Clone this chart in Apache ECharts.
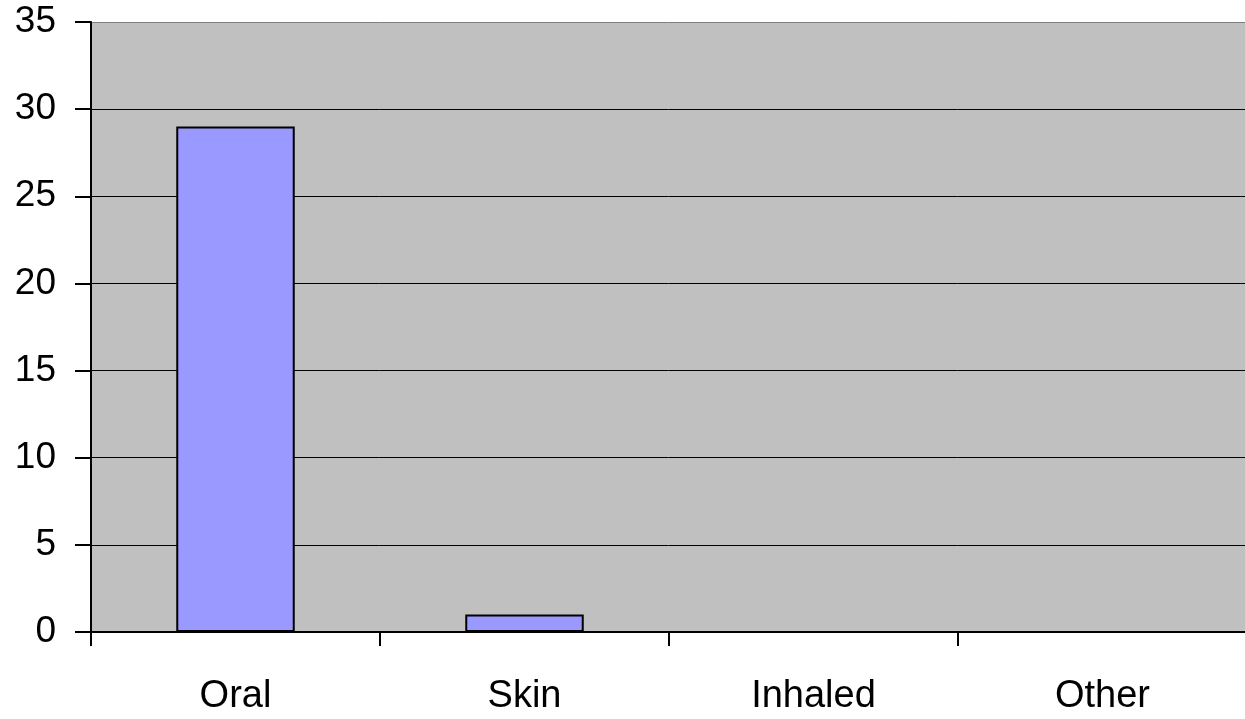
<!DOCTYPE html>
<html>
<head>
<meta charset="utf-8">
<script src="https://cdn.jsdelivr.net/npm/echarts@6/dist/echarts.min.js"></script>
<style>html,body{margin:0;padding:0;background:#fff;}#c{width:1245px;height:719px;}</style>
</head>
<body>
<div id="c"></div>
<script>
const categories = ['Oral', 'Skin', 'Inhaled', 'Other'];
const values = [29, 1, 0, 0];
const yMin = 0, yMax = 35, yStep = 5;

const chart = echarts.init(document.getElementById('c'), null, {renderer: 'canvas'});
chart.setOption({
  animation: false,
  grid: {
    left: 91, right: -2, top: 22, bottom: 87,
    outerBoundsMode: 'none', containLabel: false,
    show: true, backgroundColor: '#c0c0c0', borderWidth: 0
  },
  xAxis: {
    type: 'category',
    data: categories,
    axisLine: {lineStyle: {color: '#000', width: 2}},
    axisTick: {show: true, length: 14, lineStyle: {color: '#000', width: 2}},
    axisLabel: {color: '#000', fontFamily: 'Liberation Sans, Arial, sans-serif', fontSize: 38, margin: 46},
    splitLine: {show: false}
  },
  yAxis: {
    type: 'value',
    min: yMin, max: yMax, interval: yStep,
    axisLine: {show: true, lineStyle: {color: '#000', width: 2}},
    axisTick: {show: true, length: 16, lineStyle: {color: '#000', width: 2}},
    axisLabel: {color: '#000', fontFamily: 'Liberation Sans, Arial, sans-serif', fontSize: 37, margin: 35},
    splitLine: {show: true, lineStyle: {color: ['#000','#000','#000','#000','#000','#000','#000','#808080'], width: 1}}
  },
  series: [{
    type: 'bar',
    data: values,
    barWidth: '41%',
    itemStyle: {color: '#9999ff', borderColor: '#000', borderWidth: 2}
  }]
});
</script>
</body>
</html>
